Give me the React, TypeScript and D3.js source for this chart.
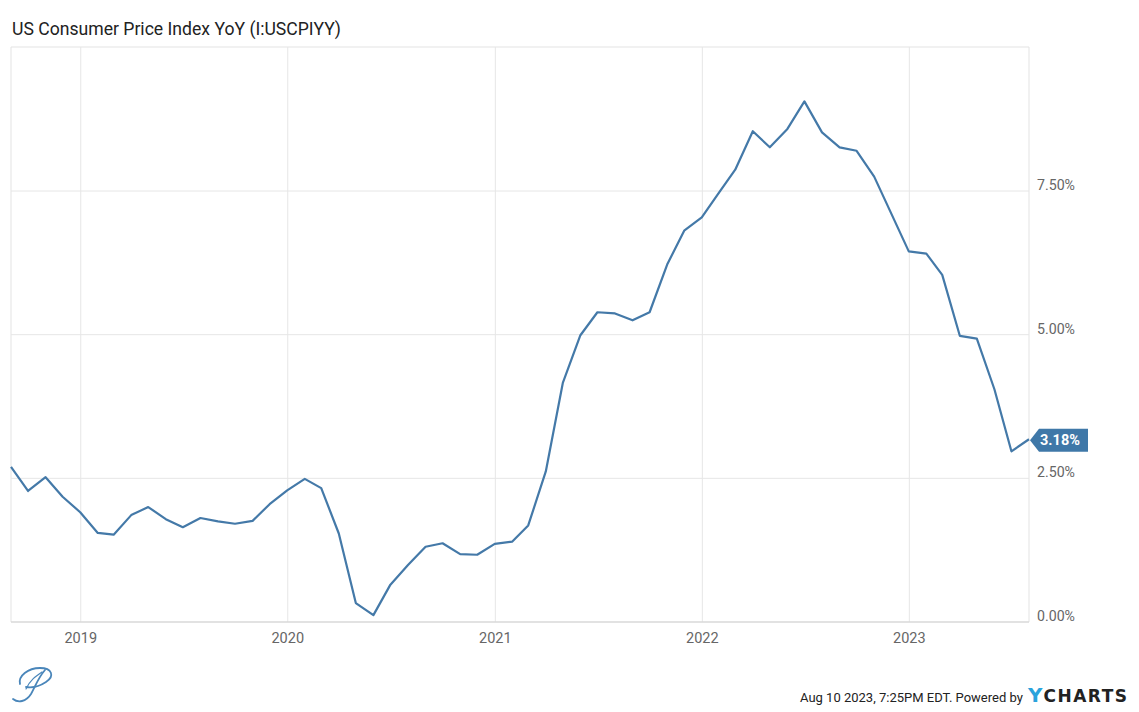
import React from "react";
import * as d3 from "d3";

const startMonth = "2018-08";
const cpiValues = [
  2.7, 2.28, 2.52, 2.18, 1.91,
  1.55, 1.52, 1.86, 2.0, 1.79, 1.65, 1.81, 1.75, 1.71, 1.76, 2.05, 2.29,
  2.49, 2.33, 1.54, 0.33, 0.12, 0.65, 0.99, 1.31, 1.37, 1.18, 1.17, 1.36,
  1.4, 1.68, 2.62, 4.16, 4.99, 5.39, 5.37, 5.25, 5.39, 6.22, 6.81, 7.04,
  7.48, 7.87, 8.54, 8.26, 8.58, 9.06, 8.52, 8.26, 8.2, 7.75, 7.11, 6.45,
  6.41, 6.04, 4.98, 4.93, 4.05, 2.97, 3.18,
];
const yTicks = [0, 2.5, 5, 7.5];
const xTickYears = [2019, 2020, 2021, 2022, 2023];
const titleText = "US Consumer Price Index YoY (I:USCPIYY)";
const footerText = "Aug 10 2023, 7:25PM EDT. Powered by";
const lastLabel = "3.18%";

// month-end dates
const [sy, sm] = startMonth.split("-").map(Number);
const dates = cpiValues.map((_, i) => new Date(sy, sm + i, 0));
const data = cpiValues.map((v, i) => ({ date: dates[i], value: v }));

export default function App() {
  const W = 1139, H = 712;
  const left = 11, right = 1029, top = 47, bottom = 622;
  const x = d3.scaleTime().domain([dates[0], dates[dates.length - 1]]).range([left, right]);
  const y = d3.scaleLinear().domain([0, 7.5]).range([bottom, 191]);
  const line = d3.line<{ date: Date; value: number }>().x(d => x(d.date)).y(d => y(d.value));
  const last = data[data.length - 1];
  const ly = y(last.value) + 1;
  const font = "Roboto, 'Noto Sans', sans-serif";
  return (
    <svg width={W} height={H} style={{ position: "absolute", left: 0, top: 0, background: "#fff" }} fontFamily={font}>
      <text x={12} y={35} fontSize={18} fill="#222" textLength={329} lengthAdjust="spacingAndGlyphs">{titleText}</text>
      {/* frame */}
      <line x1={left} x2={right} y1={top} y2={top} stroke="#e3e3e3" />
      <line x1={left} x2={left} y1={top} y2={bottom} stroke="#e3e3e3" />
      <line x1={right} x2={right} y1={top} y2={bottom} stroke="#e3e3e3" />
      {yTicks.map(t => (
        <g key={t}>
          {t > 0 && <line x1={left} x2={right} y1={y(t)} y2={y(t)} stroke="#e6e6e6" />}
          <text x={1037} y={y(t) - 1} fontSize={14} fill="#666" textLength={38} lengthAdjust="spacingAndGlyphs">{t.toFixed(2) + "%"}</text>
        </g>
      ))}
      {xTickYears.map(yr => {
        const xx = x(new Date(yr, 0, 1));
        return (
          <g key={yr}>
            <line x1={xx} x2={xx} y1={top} y2={bottom} stroke="#e6e6e6" />
            <text x={xx} y={643} fontSize={14.5} fill="#666" textAnchor="middle">{yr}</text>
          </g>
        );
      })}
      <line x1={left} x2={right} y1={bottom} y2={bottom} stroke="#d8d8d8" strokeWidth={1.5} />
      <path d={line(data) || ""} fill="none" stroke="#4479a8" strokeWidth={2.2} strokeLinejoin="round" />
      {/* last value tag */}
      <path d={`M${right + 1},${ly} L${right + 10},${ly - 11.5} L${1088},${ly - 11.5} L${1088},${ly + 11.5} L${right + 10},${ly + 11.5} Z`} fill="#3f78a8" />
      <text x={1060} y={ly + 5} fontSize={14.5} fontWeight={700} fill="#fff" textAnchor="middle">{lastLabel}</text>
      {/* logo */}
      <g fill="none" stroke="#4a86ba" strokeWidth={1.8} strokeLinecap="round">
        <path d="M13,699 C18,703 26,702 31,694 C35,687 38,678 45,670" />
        <path d="M20,684 C18,676 28,668 40,668 C52,668 55,676 46,682 C40,686 32,688 26,687" />
        <path d="M26,689 C30,680 36,676 42,672" strokeWidth={1.2} />
      </g>
      {/* footer */}
      <text x={800} y={702} fontSize={13} fill="#222">{footerText}</text>
      <text x={1028} y={702} fontWeight={700} fontFamily="'DejaVu Sans', sans-serif">
        <tspan fontSize={20} fontWeight={900} fill="#2aa3dc">Y</tspan>
        <tspan dx={1} fontSize={17} fill="#222" letterSpacing={1.5}>CHARTS</tspan>
      </text>
    </svg>
  );
}
